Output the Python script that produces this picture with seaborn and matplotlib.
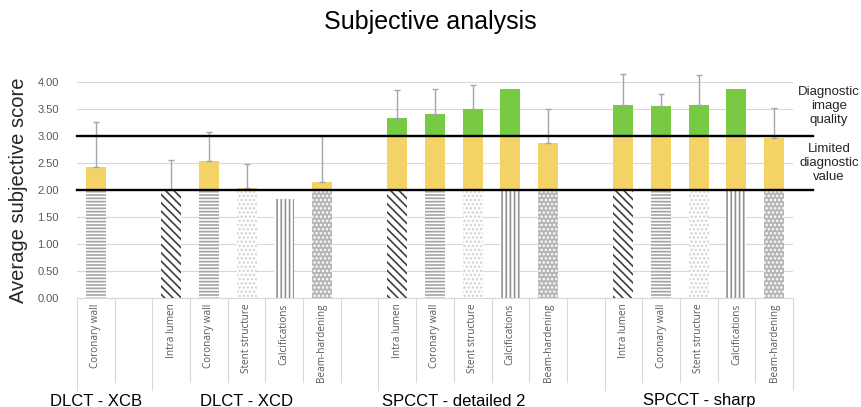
import numpy as np
import pandas as pd
import matplotlib.pyplot as plt
import matplotlib.transforms as mtransforms
import seaborn as sns

# Datos
groups = ["DLCT - XCB", "DLCT - XCD", "SPCCT - detailed 2", "SPCCT - sharp"]
group_parts = [
    ["Coronary wall"],
    ["Intra lumen", "Coronary wall", "Stent structure", "Calcifications", "Beam-hardening"],
    ["Intra lumen", "Coronary wall", "Stent structure", "Calcifications", "Beam-hardening"],
    ["Intra lumen", "Coronary wall", "Stent structure", "Calcifications", "Beam-hardening"],
]
scores = [
    [2.43],
    [2.00, 2.53, 2.04, 1.83, 2.14],
    [3.32, 3.41, 3.49, 3.86, 2.87],
    [3.57, 3.55, 3.57, 3.86, 2.96],
]
errors = [
    [0.83],
    [0.55, 0.54, 0.44, None, 0.85],
    [0.52, 0.46, 0.44, None, 0.62],
    [0.58, 0.22, 0.55, None, 0.56],
]
yticks = [0, 0.5, 1.0, 1.5, 2.0, 2.5, 3.0, 3.5, 4.0]
limits = [2.0, 3.0]  # limited diagnostic value / diagnostic image quality

# estilos
yellow = "#F3D366"
green = "#78C943"
err_color = "#A6A6A6"
grid_color = "#D9D9D9"
text_gray = "#595959"
patterns = {
    "Intra lumen": ("white", "#3F3F3F", "\\" * 4),
    "Coronary wall": ("white", "#A3A3A3", "-----"),
    "Stent structure": ("white", "#D2D2D2", "...."),
    "Calcifications": ("white", "#929292", "||||"),
    "Beam-hardening": ("#B5B5B5", "white", "...."),
}
label_shift = [0, 0, -0.5, 0]

# tabla con un hueco entre grupos
rows = []
order = []
group_slots = []
for gi, g in enumerate(groups):
    slots = []
    for part, v, e in zip(group_parts[gi], scores[gi], errors[gi]):
        key = f"{g}|{part}"
        rows.append({"slot": key, "group": g, "part": part, "score": v, "err": e})
        order.append(key)
        slots.append(len(order) - 1)
    group_slots.append(slots)
    if gi < len(groups) - 1:
        order.append(f"gap{gi}")
df = pd.DataFrame(rows)
df["yellow_h"] = np.minimum(df["score"], limits[1])
df["base_h"] = np.minimum(df["score"], limits[0])

plt.rcParams["font.family"] = ["Liberation Sans", "DejaVu Sans"]
plt.rcParams["hatch.linewidth"] = 1.2

fig = plt.figure(figsize=(8.61, 4.07), dpi=100)
ax = fig.add_axes([77 / 861, 1 - 298 / 407, 716 / 861, (298 - 81.7) / 407])

bw = 0.53
# capas: verde (valor total), amarillo hasta 3, patrón hasta 2
sns.barplot(data=df, x="slot", y="score", order=order, color=green, width=bw,
            saturation=1, linewidth=0, ax=ax, zorder=2)
sns.barplot(data=df, x="slot", y="yellow_h", order=order, color=yellow, width=bw,
            saturation=1, linewidth=0, ax=ax, zorder=2)
sns.barplot(data=df, x="slot", y="base_h", order=order, color="white", width=bw,
            saturation=1, linewidth=0, ax=ax, zorder=2)

part_of_slot = {order.index(r.slot): r.part for r in df.itertuples()}
for bar in ax.containers[2]:
    k = int(round(bar.get_x() + bar.get_width() / 2))
    face, hcol, hatch = patterns[part_of_slot[k]]
    bar.set_facecolor(face)
    bar.set_edgecolor(hcol)
    bar.set_linewidth(0)
    bar.set_hatch(hatch)

# barras de error (solo hacia arriba)
ed = df.dropna(subset=["err"])
xpos = [order.index(s) for s in ed["slot"]]
ax.errorbar(xpos, ed["score"], yerr=[np.zeros(len(ed)), ed["err"].astype(float)],
            fmt="none", ecolor=err_color, elinewidth=1, capsize=2.5, capthick=1,
            zorder=3, clip_on=False)

# líneas de referencia
for lv in limits:
    ax.axhline(lv, xmin=0, xmax=(813 - 77) / 716, color="black", lw=1.7,
               zorder=4, clip_on=False)

ax.set_ylim(0, 4.0)
ax.set_xlim(-0.5, len(order) - 0.5)
ax.set_yticks(yticks)
ax.set_yticklabels([f"{t:.2f}" for t in yticks], fontsize=8, color=text_gray)
ax.yaxis.grid(True, color=grid_color, lw=0.8, zorder=0)
ax.set_axisbelow(True)
for s in ["top", "right", "left"]:
    ax.spines[s].set_visible(False)
ax.spines["bottom"].set_color(grid_color)
ax.tick_params(axis="both", length=0)
ax.tick_params(axis="y", pad=13)

ticks = [order.index(r.slot) for r in df.itertuples()]
ax.set_xticks(ticks)
ax.set_xticklabels(df["part"], rotation=90, fontsize=7.2, color=text_gray,
                   family="Open Sans", va="top", ha="center")
ax.tick_params(axis="x", pad=4)
ax.set_xlabel("")
ax.set_ylabel("Average subjective score", fontsize=14.5, color="#262626")
ax.yaxis.set_label_coords((28 - 77) / 716, 0.5)

# separadores del eje de categorías
trans = mtransforms.blended_transform_factory(ax.transData, ax.transAxes)
ax_h = 298 - 81.7
starts = [s[0] - 0.5 for s in group_slots] + [len(order) - 0.5]
for edge in np.arange(-0.5, len(order), 1.0):
    tall = any(abs(edge - b) < 1e-6 for b in starts)
    depth = (92 if tall else 84) / ax_h
    ax.plot([edge, edge], [0, -depth], color=grid_color, lw=0.8,
            transform=trans, clip_on=False)

for gi, g in enumerate(groups):
    cx = np.mean(group_slots[gi]) + label_shift[gi]
    ax.text(cx, -(401 - 298) / ax_h, g, transform=trans, ha="center", va="center",
            fontsize=12, color="black")

fig.text(0.5, 1 - 22 / 407, "Subjective analysis", ha="center", va="center",
         fontsize=18, color="black")
fig.text(829 / 861, 1 - 106 / 407, "Diagnostic\nimage\nquality", ha="center",
         va="center", fontsize=9.5, linespacing=1.2, color="#262626")
fig.text(829 / 861, 1 - 163 / 407, "Limited\ndiagnostic\nvalue", ha="center",
         va="center", fontsize=9.5, linespacing=1.2, color="#262626")

fig.savefig("out.png", dpi=100)
